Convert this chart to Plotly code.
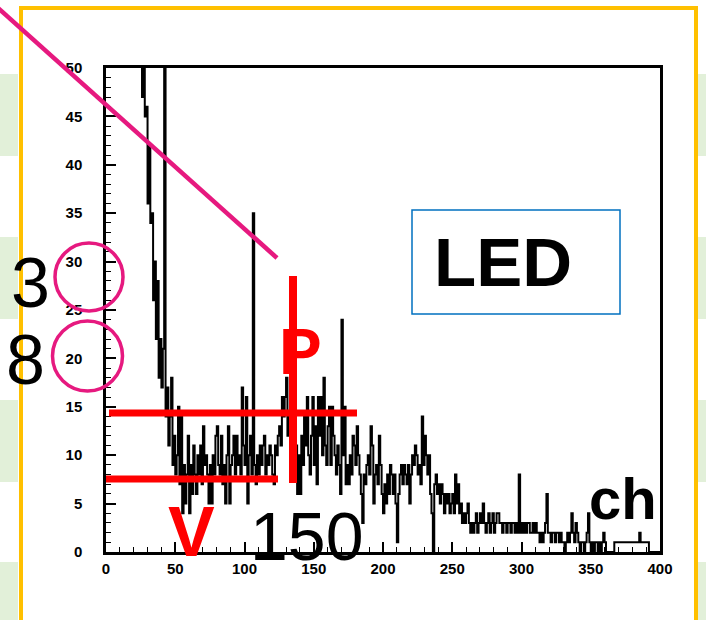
import plotly.graph_objects as go

# ---------------- data (counts per channel) ----------------
# channels 0-23 are above the top of the frame (pedestal), so they are clipped away
counts_000_049 = [80]*24 + [70, 58, 47, 52, 45, 46, 36, 42, 34, 35,
                           26, 30, 22, 28, 18, 22, 17, 21, 70, 14,
                           17, 11, 14, 18, 9, 12]
counts_050_099 = [8, 10, 15, 7, 14, 4, 9, 5, 8, 12,
                  4, 9, 6, 11, 8, 6, 10, 8, 11, 7,
                  13, 9, 10, 8, 5, 9, 5, 10, 8, 12,
                  13, 9, 8, 12, 7, 9, 5, 10, 13, 5,
                  9, 10, 12, 8, 12, 9, 10, 8, 17, 11]
counts_100_149 = [9, 16, 5, 10, 12, 8, 35, 9, 7, 10,
                  8, 11, 9, 11, 12, 8, 10, 9, 11, 10,
                  8, 7, 11, 10, 12, 13, 11, 16, 14, 16,
                  18, 12, 14, 10, 15, 9, 12, 11, 6, 10,
                  6, 12, 9, 14, 11, 16, 10, 8, 12, 16]
counts_150_199 = [9, 13, 7, 16, 12, 16, 10, 18, 11, 9,
                  13, 15, 9, 15, 12, 10, 8, 11, 9, 6,
                  24, 10, 15, 7, 9, 7, 10, 8, 12, 11,
                  9, 13, 10, 8, 6, 3, 8, 7, 9, 10,
                  8, 13, 11, 5, 8, 9, 7, 12, 9, 6]
counts_200_249 = [4, 7, 5, 8, 6, 9, 8, 6, 8, 5,
                  1, 6, 8, 9, 7, 9, 8, 7, 9, 5,
                  8, 10, 9, 11, 10, 8, 9, 7, 14, 9,
                  12, 10, 8, 10, 6, 4, 0, 7, 8, 6,
                  7, 5, 7, 6, 4, 6, 5, 6, 4, 5]
counts_250_299 = [6, 4, 8, 5, 7, 4, 5, 3, 4, 3,
                  4, 5, 3, 2, 3, 2, 3, 4, 2, 3,
                  4, 3, 5, 3, 2, 3, 4, 2, 3, 4,
                  2, 3, 4, 4, 3, 3, 2, 3, 3, 2,
                  3, 3, 2, 3, 3, 2, 3, 2, 8, 2]
counts_300_349 = [3, 2, 3, 2, 3, 3, 2, 2, 3, 2,
                  3, 2, 2, 1, 2, 1, 2, 3, 6, 2,
                  2, 1, 2, 2, 1, 2, 2, 1, 2, 1,
                  1, 0, 1, 2, 1, 2, 4, 2, 1, 3,
                  2, 1, 0, 1, 1, 0, 1, 2, 4, 1]
counts_350_399 = [0, 1, 0, 1, 1, 0, 1, 0, 1, 2,
                  1, 0, 0, 0, 0, 0, 0, 1, 1, 1,
                  1, 1, 1, 1, 1, 1, 1, 1, 1, 1,
                  1, 1, 1, 1, 1, 2, 1, 1, 1, 1,
                  1, 1, 0, 0, 0, 0, 0, 0, 0, 0]

counts = (counts_000_049 + counts_050_099 + counts_100_149 + counts_150_199
          + counts_200_249 + counts_250_299 + counts_300_349 + counts_350_399)
edges = list(range(len(counts) + 1))

x_ticks = [0, 50, 100, 150, 200, 250, 300, 350, 400]
y_ticks = [0, 5, 10, 15, 20, 25, 30, 35, 40, 45, 50]

# ---------------- figure ----------------
W, H = 716, 620
L, R, T, B = 106, 660, 68, 552


def px(x):
    return (x - L) / (R - L)


def py(y):
    return (B - y) / (B - T)


fig = go.Figure()
fig.add_trace(go.Scatter(
    x=edges, y=counts + [counts[-1]], mode="lines",
    line=dict(color="black", width=2, shape="hv"),
    hoverinfo="skip", showlegend=False))

tickfont = dict(family="Liberation Sans", size=15, color="black", weight="bold")
fig.update_xaxes(range=[0, 400], tickmode="array", tickvals=x_ticks,
                 ticktext=[str(v) for v in x_ticks], ticks="inside", ticklen=10,
                 tickwidth=1.5, tickcolor="black",
                 minor=dict(dtick=10, tick0=0, ticks="inside", ticklen=5,
                            tickwidth=1.2, tickcolor="black"),
                 showline=True, linecolor="black", linewidth=2.5, mirror=True,
                 showgrid=False, zeroline=False, tickfont=tickfont,
                 ticklabelstandoff=1)
fig.update_yaxes(range=[0, 50], tickmode="array", tickvals=y_ticks,
                 ticktext=[str(v) for v in y_ticks], ticks="inside", ticklen=10,
                 tickwidth=1.5, tickcolor="black",
                 minor=dict(dtick=1, tick0=0, ticks="inside", ticklen=5,
                            tickwidth=1.2, tickcolor="black"),
                 showline=True, linecolor="black", linewidth=2.5, mirror=True,
                 showgrid=False, zeroline=False, tickfont=tickfont,
                 ticklabelstandoff=18)

shapes = []
green = "#E2F0D9"
for y0 in [74, 237, 400, 562]:
    y1 = min(y0 + 82, 640)
    shapes.append(dict(type="rect", xref="paper", yref="paper",
                       x0=px(0), x1=px(18), y0=py(y0), y1=py(y1),
                       fillcolor=green, line=dict(width=0), layer="below"))
    shapes.append(dict(type="rect", xref="paper", yref="paper",
                       x0=px(698), x1=px(706), y0=py(y0), y1=py(y1),
                       fillcolor=green, line=dict(width=0), layer="below"))
# yellow frame
shapes.append(dict(type="rect", xref="paper", yref="paper",
                   x0=px(21), x1=px(696), y0=py(8), y1=py(660),
                   line=dict(color="#FFC000", width=4), fillcolor="rgba(0,0,0,0)",
                   layer="above"))
pink = "#E6197F"
shapes.append(dict(type="line", xref="paper", yref="paper",
                   x0=px(-2), y0=py(8), x1=px(277), y1=py(258),
                   line=dict(color=pink, width=4.5), layer="above"))
for cx, cy, r in [(89, 277, 34), (87.5, 356, 35)]:
    shapes.append(dict(type="circle", xref="paper", yref="paper",
                       x0=px(cx - r), x1=px(cx + r), y0=py(cy - r), y1=py(cy + r),
                       line=dict(color=pink, width=3.5), layer="above"))
red = "#FF0000"
shapes.append(dict(type="line", xref="paper", yref="paper",
                   x0=px(293), x1=px(293), y0=py(276), y1=py(483),
                   line=dict(color=red, width=8), layer="above"))
shapes.append(dict(type="line", xref="paper", yref="paper",
                   x0=px(109), x1=px(357), y0=py(413), y1=py(413),
                   line=dict(color=red, width=7), layer="above"))
shapes.append(dict(type="line", xref="paper", yref="paper",
                   x0=px(106), x1=px(278), y0=py(479), y1=py(479),
                   line=dict(color=red, width=7), layer="above"))
shapes.append(dict(type="rect", xref="paper", yref="paper",
                   x0=px(412), x1=px(620), y0=py(210), y1=py(314),
                   line=dict(color="#0070C0", width=1.5), fillcolor="white",
                   layer="above"))
fig.update_layout(shapes=shapes)

ann = []


def text(t, cx, cy, size, color="black", bold=False):
    ann.append(dict(text=t, xref="paper", yref="paper", x=px(cx), y=py(cy),
                    xanchor="center", yanchor="middle", showarrow=False,
                    font=dict(family="Liberation Sans", size=size, color=color,
                              weight="bold" if bold else "normal")))


text("LED", 503, 262, 69, bold=True)
text("ch", 623, 498, 58, bold=True)
text("3", 30, 283, 70)
text("8", 25, 360, 70)
text("150", 306, 536, 68)
text("V", 191, 532, 70, color=red, bold=True)
text("P", 300, 352, 64, color=red, bold=True)
fig.update_layout(annotations=ann)

fig.update_layout(width=W, height=H, autosize=False,
                  margin=dict(l=L, r=W - R, t=T, b=H - B, pad=0),
                  plot_bgcolor="white", paper_bgcolor="white",
                  showlegend=False)
fig.write_html("out.html")
